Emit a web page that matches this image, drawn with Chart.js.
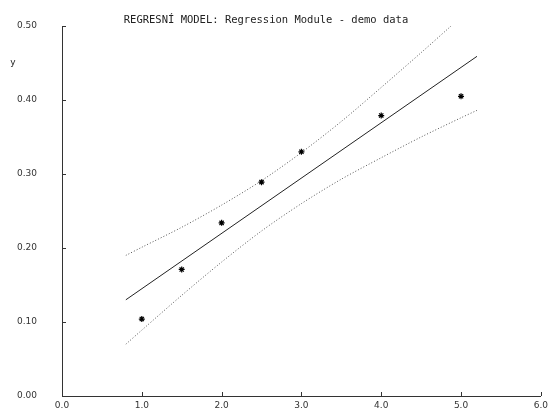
<!DOCTYPE html>
<html>
<head>
<meta charset="utf-8">
<script src="https://cdn.jsdelivr.net/npm/chart.js@4"></script>
<style>
  html, body { margin: 0; padding: 0; background: #fff; }
</style>
</head>
<body>
<canvas id="regChart" width="552" height="412"></canvas>
<script>
const chartTitle = 'REGRESNÍ MODEL: Regression Module - demo data';
const yAxisLabel = 'y';

// measured points
const pointX = [1.0, 1.5, 2.0, 2.5, 3.0, 4.0, 5.0];
const pointY = [0.104, 0.171, 0.234, 0.289, 0.330, 0.379, 0.405];

// regression line
const fitX = [0.8, 5.2];
const fitY = [0.130, 0.459];

// confidence band (upper / lower)
const upperX = [0.8, 1.0, 1.5, 2.0, 2.5, 3.0, 3.5, 4.0, 4.5, 4.875];
const upperY = [0.190, 0.201, 0.228, 0.258, 0.291, 0.329, 0.371, 0.417, 0.464, 0.500];
const lowerX = [0.8, 1.0, 1.5, 2.0, 2.5, 3.0, 3.5, 4.0, 4.5, 5.0, 5.2];
const lowerY = [0.070, 0.089, 0.136, 0.181, 0.223, 0.260, 0.293, 0.322, 0.350, 0.376, 0.386];

const xTicks = [0, 1, 2, 3, 4, 5, 6];
const yTicks = [0, 0.1, 0.2, 0.3, 0.4, 0.5];

const toXY = (xs, ys) => xs.map((x, i) => ({ x: x, y: ys[i] }));

// inward tick marks + title + y label
const decorPlugin = {
  id: 'decor',
  afterDraw(chart) {
    const ctx = chart.ctx;
    const xs = chart.scales.x, ys = chart.scales.y;
    const area = chart.chartArea;
    ctx.save();
    ctx.strokeStyle = '#333';
    ctx.lineWidth = 1;
    ctx.beginPath();
    xTicks.forEach(v => {
      if (v === 0) return;
      const px = Math.round(xs.getPixelForValue(v)) + 0.5;
      ctx.moveTo(px, area.bottom);
      ctx.lineTo(px, area.bottom - 4);
    });
    yTicks.forEach(v => {
      if (v === 0) return;
      const py = Math.round(ys.getPixelForValue(v)) + 0.5;
      ctx.moveTo(area.left, py);
      ctx.lineTo(area.left + 4, py);
    });
    ctx.stroke();

    ctx.fillStyle = '#222';
    ctx.font = '10.5px "DejaVu Sans Mono"';
    ctx.textAlign = 'center';
    ctx.textBaseline = 'middle';
    ctx.fillText(chartTitle, 266, 20);

    ctx.font = '9px "DejaVu Sans"';
    ctx.fillText(yAxisLabel, 13, 63);
    ctx.restore();
  }
};

new Chart(document.getElementById('regChart'), {
  type: 'scatter',
  data: {
    datasets: [
      {
        label: 'data',
        data: toXY(pointX, pointY),
        pointStyle: 'star',
        pointRadius: 3,
        borderColor: '#000',
        backgroundColor: '#000',
        borderWidth: 1.2,
        showLine: false
      },
      {
        label: 'fit',
        data: toXY(fitX, fitY),
        showLine: true,
        pointRadius: 0,
        borderColor: '#222',
        borderWidth: 1
      },
      {
        label: 'upper',
        data: toXY(upperX, upperY),
        showLine: true,
        pointRadius: 0,
        borderColor: '#555',
        borderWidth: 1,
        borderDash: [1, 2],
        tension: 0.3
      },
      {
        label: 'lower',
        data: toXY(lowerX, lowerY),
        showLine: true,
        pointRadius: 0,
        borderColor: '#555',
        borderWidth: 1,
        borderDash: [1, 2],
        tension: 0.3
      }
    ]
  },
  options: {
    responsive: false,
    animation: false,
    layout: { padding: { left: 17, right: 10, top: 26, bottom: 0 } },
    plugins: {
      legend: { display: false },
      title: { display: false },
      tooltip: { enabled: false }
    },
    scales: {
      x: {
        type: 'linear',
        min: 0,
        max: 6,
        afterFit: (scale) => { scale.height = 16; },
        afterBuildTicks: (scale) => { scale.ticks = xTicks.map(v => ({ value: v })); },
        grid: { display: false, drawTicks: false },
        border: { display: true, color: '#333', width: 1 },
        ticks: {
          padding: 4,
          color: '#333',
          font: { family: 'DejaVu Sans', size: 9 },
          maxRotation: 0,
          callback: (v) => Number(v).toFixed(1)
        }
      },
      y: {
        type: 'linear',
        min: 0,
        max: 0.5,
        afterFit: (scale) => { scale.width = 45; },
        afterBuildTicks: (scale) => { scale.ticks = yTicks.map(v => ({ value: v })); },
        grid: { display: false, drawTicks: false },
        border: { display: true, color: '#333', width: 1 },
        ticks: {
          padding: 0,
          crossAlign: 'far',
          color: '#333',
          font: { family: 'DejaVu Sans', size: 9 },
          callback: (v) => Number(v).toFixed(2)
        }
      }
    }
  },
  plugins: [decorPlugin]
});
</script>
</body>
</html>
